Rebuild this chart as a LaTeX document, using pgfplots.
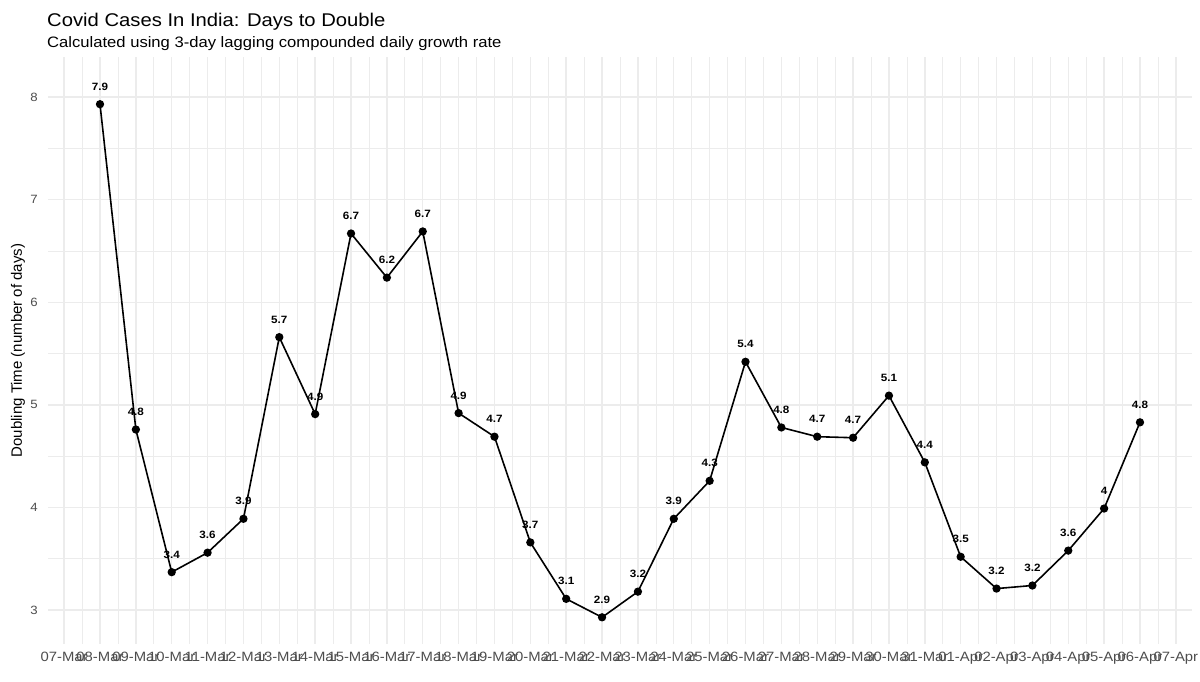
\documentclass[border=0pt]{standalone}
\usepackage{fontspec}
\setmainfont{Liberation Sans}[FakeStretch=1.1]
\newfontfamily\plainsans{Liberation Sans}
\usepackage{pgfplots}
\pgfplotsset{compat=1.18}

\definecolor{grey92}{RGB}{236,236,236}
\definecolor{grey30}{RGB}{77,77,77}

\pgfplotstableread{
x  y    lab
1  7.93 7.9
2  4.76 4.8
3  3.37 3.4
4  3.56 3.6
5  3.89 3.9
6  5.66 5.7
7  4.91 4.9
8  6.67 6.7
9  6.24 6.2
10 6.69 6.7
11 4.92 4.9
12 4.69 4.7
13 3.66 3.7
14 3.11 3.1
15 2.93 2.9
16 3.18 3.2
17 3.89 3.9
18 4.26 4.3
19 5.42 5.4
20 4.78 4.8
21 4.69 4.7
22 4.68 4.7
23 5.09 5.1
24 4.44 4.4
25 3.52 3.5
26 3.21 3.2
27 3.24 3.2
28 3.58 3.6
29 3.99 4
30 4.83 4.8
}\doubling

\begin{document}
\begin{tikzpicture}
\useasboundingbox (0,0) rectangle (1200pt,682pt);

% titles, aligned with the panel
\node[anchor=base west, inner sep=0pt, font=\fontsize{18.4}{22}\selectfont] at (47pt,655.3pt)
  {Covid Cases In India: Days to Double};
\node[anchor=base west, inner sep=0pt, font=\fontsize{15.1}{18}\selectfont] at (47pt,634.3pt)
  {Calculated using 3-day lagging compounded daily growth rate};

\begin{axis}[
  at={(48pt,38pt)}, anchor=south west,
  scale only axis,
  width=1144pt, height=587pt,
  xmin=-0.45, xmax=31.45,
  ymin=2.67, ymax=8.39,
  axis line style={draw=none},
  major tick length=0pt, minor tick length=0pt,
  xtick={0,...,31},
  xticklabels={07-Mar,08-Mar,09-Mar,10-Mar,11-Mar,12-Mar,13-Mar,14-Mar,15-Mar,16-Mar,
    17-Mar,18-Mar,19-Mar,20-Mar,21-Mar,22-Mar,23-Mar,24-Mar,25-Mar,26-Mar,27-Mar,
    28-Mar,29-Mar,30-Mar,31-Mar,01-Apr,02-Apr,03-Apr,04-Apr,05-Apr,06-Apr,07-Apr},
  ytick={3,...,8},
  minor x tick num=1,
  minor y tick num=1,
  grid=both,
  major grid style={draw=grey92, line width=1.4pt},
  minor grid style={draw=grey92, line width=0.7pt},
  xticklabel style={font=\fontsize{13.5}{16}\selectfont, text=grey30,
    inner sep=0pt, anchor=base, yshift=-18pt},
  yticklabel style={font=\fontsize{12}{14}\selectfont, text=grey30,
    inner sep=0pt, anchor=east, xshift=-10pt},
  /pgf/number format/assume math mode=true,
  ylabel={\plainsans\fontsize{15}{18}\selectfont Doubling Time (number of days)},
  every axis y label/.style={at={(axis description cs:0,0.5)}, xshift=-30pt,
    rotate=90, anchor=center},
  clip=false,
]
\addplot[black, line width=1.6pt, mark=*, mark size=3.3pt,
  point meta=explicit symbolic,
  nodes near coords,
  nodes near coords style={font=\fontsize{10.6}{12}\selectfont\bfseries,
    text=black, anchor=base, inner sep=0pt, yshift=14pt}]
  table[x=x, y=y, meta=lab] {\doubling};
\end{axis}
\end{tikzpicture}
\end{document}
